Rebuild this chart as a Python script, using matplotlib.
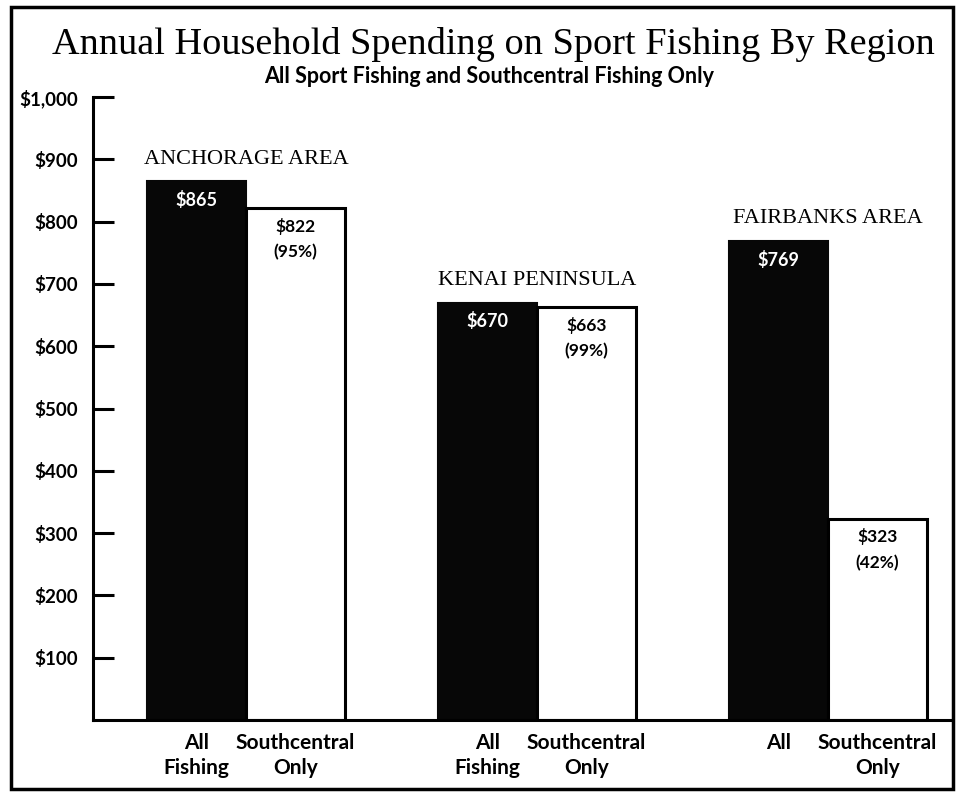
"""
Annual household spending on sport fishing by region
(all sport fishing vs. Southcentral fishing only)
"""
import numpy as np
import matplotlib
matplotlib.use("Agg")
import matplotlib.pyplot as plt
from matplotlib.patches import Rectangle

# ── Data ──────────────────────────────────────────────────────────────────────
REGIONS = ["ANCHORAGE AREA", "KENAI PENINSULA", "FAIRBANKS AREA"]
ALL_FISHING = [865, 670, 769]
SOUTHCENTRAL = [822, 663, 323]
SC_PCT = [95, 99, 42]
ALL_LABELS = ["All\nFishing", "All\nFishing", "All"]
SC_LABELS = ["Southcentral\nOnly", "Southcentral\nOnly", "Southcentral\nOnly"]
Y_TICKS = [100, 200, 300, 400, 500, 600, 700, 800, 900, 1000]

LABEL_FONT = ["Lato", "DejaVu Sans"]
SERIF_FONT = ["Liberation Serif", "DejaVu Serif"]


def money(v):
    return "\\$" + f"{v:,}"


def main():
    fig = plt.figure(figsize=(9.66, 7.97), dpi=100)
    ax = fig.add_axes([0.0963, 0.0966, 0.889, 0.7817])

    x = np.arange(len(REGIONS))
    width = 0.34

    ax.bar(x - width / 2, ALL_FISHING, width, color="#070707",
           edgecolor="#070707", linewidth=1.5, zorder=2)
    ax.bar(x + width / 2, SOUTHCENTRAL, width, color="white",
           edgecolor="black", linewidth=2.2, zorder=2)

    # value labels
    for xi, v in zip(x, ALL_FISHING):
        ax.annotate(money(v), (xi - width / 2, v), xytext=(0, -7),
                    textcoords="offset points", ha="center", va="top",
                    color="white", fontsize=13, fontweight="bold",
                    family=LABEL_FONT)
    for xi, v, p in zip(x, SOUTHCENTRAL, SC_PCT):
        ax.annotate(f"{money(v)}\n({p}%)", (xi + width / 2, v),
                    xytext=(0, -7), textcoords="offset points",
                    ha="center", va="top", color="black", fontsize=12.5,
                    fontweight="bold", family=LABEL_FONT, linespacing=1.7)

    # region names above each group
    for xi, name, v in zip(x, REGIONS, ALL_FISHING):
        ax.annotate(name, (xi, v), xytext=(0, 9), textcoords="offset points",
                    ha="center", va="bottom", fontsize=16,
                    family=SERIF_FONT, color="black")

    # axes styling
    ax.set_xlim(-0.526, 2.426)
    ax.set_ylim(0, 1000)
    ax.spines["top"].set_visible(False)
    ax.spines["right"].set_visible(False)
    ax.spines["left"].set_linewidth(2.2)
    ax.spines["bottom"].set_linewidth(2.2)

    ax.set_yticks(Y_TICKS)
    ax.set_yticklabels([money(v) for v in Y_TICKS], fontsize=13.5,
                       fontweight="bold", family=LABEL_FONT)
    ax.tick_params(axis="y", direction="in", length=15, width=2.2, pad=11)

    tick_pos = np.concatenate([x - width / 2, x + width / 2])
    tick_lab = ALL_LABELS + SC_LABELS
    ax.set_xticks(tick_pos)
    ax.set_xticklabels(tick_lab, fontsize=15, fontweight="bold",
                       family=LABEL_FONT, linespacing=1.35)
    ax.tick_params(axis="x", length=0, pad=9)

    # titles
    fig.text(0.511, 0.944, "Annual Household Spending on Sport Fishing By Region",
             ha="center", va="center", fontsize=27.5, family=SERIF_FONT,
             color="black")
    fig.text(0.506, 0.904, "All Sport Fishing and Southcentral Fishing Only",
             ha="center", va="center", fontsize=15.5, fontweight="bold",
             family=LABEL_FONT)

    # outer frame
    fig.patches.append(Rectangle((11 / 966, 1 - 789 / 797), 942 / 966,
                                 782 / 797, transform=fig.transFigure,
                                 fill=False, edgecolor="black", linewidth=2.5))

    fig.savefig("out.png", dpi=100)
    plt.close(fig)


if __name__ == "__main__":
    main()
